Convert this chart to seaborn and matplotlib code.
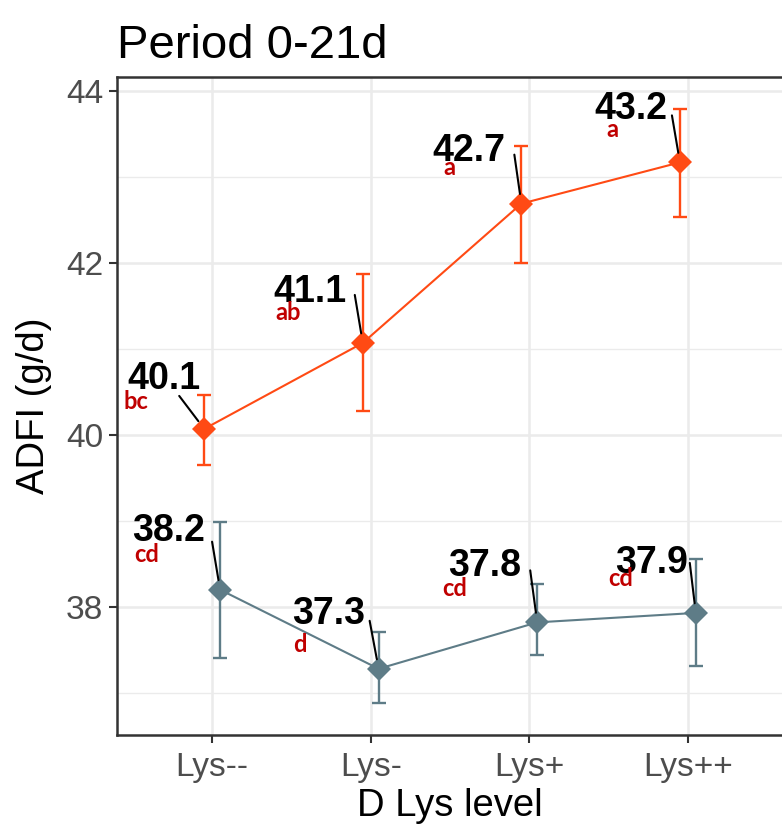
import matplotlib
matplotlib.use("Agg")
import matplotlib.pyplot as plt
import seaborn as sns
import numpy as np
import pandas as pd

# ---- data ----
levels = ["Lys--", "Lys-", "Lys+", "Lys++"]
high_mean = [40.07, 41.07, 42.69, 43.17]
high_lo = [39.65, 40.28, 42.00, 42.53]
high_hi = [40.47, 41.87, 43.36, 43.79]
high_letters = ["bc", "ab", "a", "a"]

low_mean = [38.20, 37.28, 37.82, 37.93]
low_lo = [37.41, 36.88, 37.44, 37.31]
low_hi = [38.99, 37.71, 38.27, 38.56]
low_letters = ["cd", "d", "cd", "cd"]

groups = ["high", "low"]
colors = {"high": "#FF4A14", "low": "#5E7C87"}
dodge = {"high": -0.05, "low": 0.05}

# label offsets (pixels) relative to each point
val_off = {"high": [(-40, 50), (-53, 51), (-52, 53), (-49, 53)],
           "low": [(-52, 59), (-50, 55), (-53, 56), (-44, 50)]}
lead_off = {"high": [(-25, 33), (-8, 48), (-7, 49), (-8, 47)],
            "low": [(-8, 48), (-9, 48), (-7, 52), (-6, 50)]}
let_off = {"high": [(-68, 27), (-75, 30), (-72, 36), (-68, 33)],
           "low": [(-73, 35), (-79, 24), (-83, 34), (-75, 34)]}

rows = []
for g, m, lo, hi, lt in [("high", high_mean, high_lo, high_hi, high_letters),
                         ("low", low_mean, low_lo, low_hi, low_letters)]:
    for i, lev in enumerate(levels):
        rows.append(dict(group=g, level=lev, idx=i, mean=m[i], lo=lo[i], hi=hi[i], letter=lt[i]))
df = pd.DataFrame(rows)
df["xpos"] = df["idx"] + df["group"].map(dodge)

sns.set_theme(style="white")
plt.rcParams["font.family"] = ["Liberation Sans", "DejaVu Sans"]

fig = plt.figure(figsize=(7.82, 8.39), dpi=100)
ax = fig.add_axes([117 / 782, 1 - 735 / 839, (783 - 117) / 782, (735 - 77) / 839])

# grid
ax.set_axisbelow(True)
ax.set_yticks([38, 40, 42, 44])
ax.set_yticks([37, 39, 41, 43], minor=True)
ax.set_xticks(range(len(levels)))
ax.grid(which="major", color="#EBEBEB", lw=1.8)
ax.grid(which="minor", axis="y", color="#EBEBEB", lw=1.0)

for g in groups:
    sub = df[df.group == g]
    ax.errorbar(sub["xpos"], sub["mean"],
                yerr=[sub["mean"] - sub["lo"], sub["hi"] - sub["mean"]],
                fmt="none", ecolor=colors[g], elinewidth=1.7, capsize=5, capthick=1.7, zorder=3)

sns.lineplot(data=df, x="xpos", y="mean", hue="group", palette=colors,
             marker="D", markersize=12, markeredgewidth=0, lw=1.5,
             legend=False, ax=ax, zorder=4, estimator=None, sort=False)

for g in groups:
    sub = df[df.group == g].reset_index(drop=True)
    for i, r in sub.iterrows():
        ax.annotate("", xy=(r.xpos, r["mean"]), xytext=lead_off[g][i], textcoords="offset pixels",
                    arrowprops=dict(arrowstyle="-", color="black", lw=1.5, shrinkA=0, shrinkB=7),
                    zorder=5)
        ax.annotate(f"{r['mean']:.1f}", xy=(r.xpos, r["mean"]), xytext=val_off[g][i],
                    textcoords="offset pixels", ha="center", va="center",
                    fontsize=27, fontweight="bold", color="black", zorder=6)
        ax.annotate(r.letter, xy=(r.xpos, r["mean"]), xytext=let_off[g][i],
                    textcoords="offset pixels", ha="center", va="center",
                    fontsize=17, fontweight="bold", color="#C00000",
                    family=["Lato", "DejaVu Sans"], zorder=7)

ax.set_xlim(-0.6, 3.6)
ax.set_ylim(36.51, 44.163)
ax.set_xticklabels(levels)
ax.set_yticklabels(["38", "40", "42", "44"])

for s in ["left", "bottom", "top"]:
    ax.spines[s].set_color("#333333")
    ax.spines[s].set_linewidth(1.8)
ax.spines["right"].set_visible(False)

ax.tick_params(axis="both", which="major", length=6, width=1.5, color="#333333",
               labelsize=24, labelcolor="#4D4D4D", direction="out", bottom=True, left=True)
ax.tick_params(axis="both", which="minor", length=0)
ax.tick_params(axis="x", pad=6)
ax.tick_params(axis="y", pad=4)

ax.set_xlabel("D Lys level", fontsize=27.5, color="black", labelpad=4)
ax.set_ylabel("ADFI (g/d)", fontsize=27.5, color="black", labelpad=10)
ax.set_title("Period 0-21d", loc="left", fontsize=34, color="black", pad=14)

fig.savefig("out.png", dpi=100)
